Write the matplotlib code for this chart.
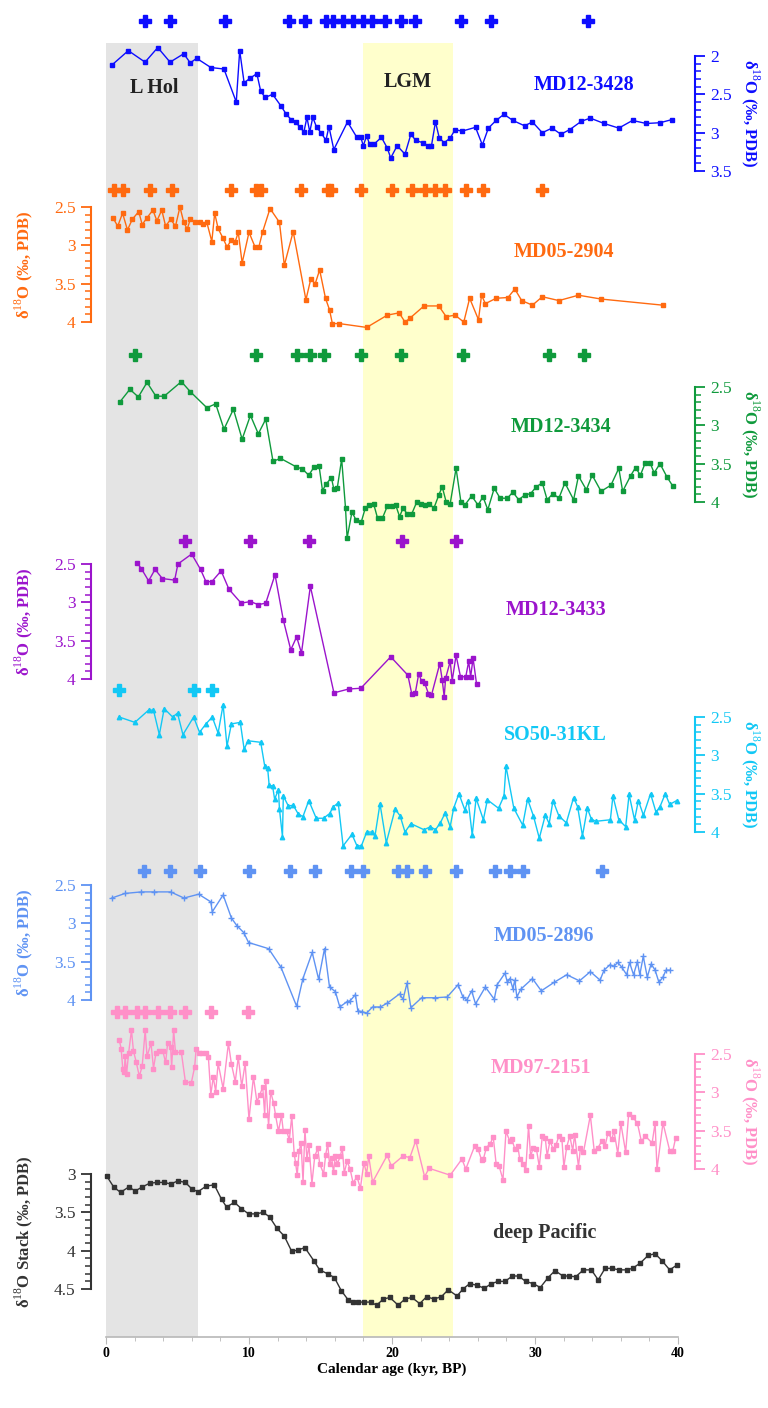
import matplotlib
matplotlib.use('Agg')
import matplotlib.pyplot as plt
from matplotlib.ticker import MultipleLocator, FuncFormatter

plt.rcParams['font.family'] = ['Liberation Serif', 'DejaVu Serif']
plt.rcParams['mathtext.fontset'] = 'custom'
plt.rcParams['mathtext.rm'] = 'Liberation Serif'
plt.rcParams['mathtext.bf'] = 'Liberation Serif:bold'

# ---------------- DATA ----------------
md12_3428_age = [0.4, 1.56, 2.73, 3.62, 4.48, 5.44, 5.89, 6.34, 7.33, 8.25, 9.11, 9.35, 9.66, 10.07, 10.55,
                 10.82, 11.13, 11.65, 12.23, 12.61, 12.95, 13.26, 13.57, 13.84, 14.05, 14.25, 14.46, 14.73,
                 15.04, 15.38, 15.59, 15.93, 16.89, 17.54, 17.82, 17.99, 18.23, 18.43, 18.74, 19.26, 19.67,
                 19.91, 20.36, 20.91, 21.32, 21.66, 22.14, 22.55, 22.76, 23.04, 23.31, 23.65, 24.07, 24.41,
                 24.89, 25.84, 26.32, 26.74, 27.28, 27.83, 28.45, 29.27, 29.82, 30.51, 31.19, 31.81, 32.43,
                 33.25, 33.87, 34.83, 35.86, 36.82, 37.78, 38.74, 39.56]
md12_3428_d18o = [2.12, 1.93, 2.08, 1.89, 2.08, 1.97, 2.09, 2.03, 2.15, 2.17, 2.60, 1.93, 2.35, 2.29, 2.23,
                  2.46, 2.54, 2.50, 2.65, 2.76, 2.83, 2.86, 2.93, 2.99, 2.80, 2.99, 2.80, 2.93,
                  3.00, 3.10, 2.92, 3.22, 2.86, 3.06, 3.06, 3.17, 3.04, 3.15, 3.15, 3.06, 3.20,
                  3.33, 3.17, 3.28, 3.02, 3.10, 3.13, 3.17, 3.17, 2.86, 3.07, 3.13, 3.07, 2.96,
                  2.98, 2.93, 3.16, 2.94, 2.84, 2.76, 2.84, 2.91, 2.86, 3.00, 2.94, 3.02, 2.96,
                  2.85, 2.81, 2.88, 2.94, 2.84, 2.88, 2.87, 2.83]
md12_3428_dates = [2.7, 4.5, 8.3, 12.8, 13.9, 15.4, 15.9, 16.6, 17.3, 18.0, 18.6, 19.5, 20.6, 21.6, 24.8, 26.9, 33.7]

md05_2904_age = [0.48, 0.82, 1.16, 1.50, 1.84, 2.29, 2.53, 2.87, 3.28, 3.56, 3.90, 4.17, 4.52, 4.86, 5.17,
                 5.44, 5.68, 5.89, 6.23, 6.57, 6.81, 7.05, 7.40, 7.60, 7.84, 8.19, 8.46, 8.77, 9.04, 9.25,
                 9.52, 10.00, 10.42, 10.69, 10.96, 11.47, 12.13, 12.47, 13.09, 13.98, 14.32, 14.63, 14.94,
                 15.35, 15.63, 15.83, 16.31, 18.23, 19.67, 20.50, 20.91, 21.25, 22.24, 23.27, 23.79, 24.41,
                 25.02, 25.43, 26.05, 26.26, 26.53, 27.28, 28.11, 28.59, 29.07, 29.82, 30.51, 31.67, 33.04,
                 34.62, 38.94]
md05_2904_d18o = [2.64, 2.75, 2.58, 2.80, 2.66, 2.56, 2.73, 2.64, 2.54, 2.68, 2.54, 2.75, 2.66, 2.75, 2.50,
                  2.70, 2.79, 2.66, 2.70, 2.69, 2.72, 2.70, 2.95, 2.58, 2.78, 2.91, 3.02, 2.93, 2.95, 2.83,
                  3.23, 2.83, 3.02, 3.02, 2.82, 2.52, 2.70, 3.26, 2.82, 3.71, 3.44, 3.50, 3.32,
                  3.69, 3.84, 4.02, 4.02, 4.07, 3.91, 3.88, 4.00, 3.95, 3.79, 3.79, 3.93, 3.91,
                  4.00, 3.69, 3.97, 3.65, 3.76, 3.69, 3.68, 3.57, 3.72, 3.78, 3.67, 3.72, 3.65,
                  3.70, 3.78]
md05_2904_dates = [0.55, 1.16, 3.05, 4.59, 8.77, 10.49, 10.83, 13.64, 15.49, 15.76, 17.82, 20.02, 21.39,
                   22.28, 23.03, 23.72, 25.16, 26.36, 30.47]

md12_3434_age = [0.99, 1.67, 2.26, 2.87, 3.49, 4.07, 5.27, 5.89, 7.05, 7.67, 8.25, 8.91, 9.52, 10.10, 10.65,
                 11.17, 11.68, 12.20, 13.29, 13.74, 14.18, 14.56, 14.90, 15.14, 15.38, 15.76, 15.93, 16.17,
                 16.48, 16.75, 16.86, 17.20, 17.50, 17.85, 18.13, 18.37, 18.71, 18.99, 19.33, 19.68, 20.02,
                 20.26, 20.53, 20.77, 21.05, 21.39, 21.73, 22.00, 22.28, 22.59, 22.93, 23.27, 23.51, 23.79,
                 24.07, 24.48, 24.82, 25.09, 25.57, 26.02, 26.36, 26.70, 27.15, 27.56, 28.07, 28.45, 28.86,
                 29.27, 29.69, 30.10, 30.51, 30.85, 31.26, 31.67, 32.09, 32.70, 33.04, 33.59, 34.00, 34.62,
                 35.31, 35.86, 36.13, 36.68, 37.03, 37.37, 37.71, 38.05, 38.33, 38.74, 39.22, 39.63]
md12_3434_d18o = [2.69, 2.53, 2.63, 2.44, 2.62, 2.62, 2.43, 2.56, 2.77, 2.72, 3.05, 2.79, 3.18, 2.87, 3.11,
                  2.92, 3.47, 3.43, 3.54, 3.57, 3.65, 3.54, 3.53, 3.85, 3.77, 3.68, 3.83, 3.82,
                  3.44, 4.08, 4.47, 4.13, 4.24, 4.26, 4.08, 4.04, 4.02, 4.21, 4.21, 4.05, 4.05,
                  4.04, 4.19, 4.08, 4.15, 4.15, 4.00, 4.02, 4.04, 4.02, 4.08, 3.91, 3.80, 4.00,
                  4.02, 3.56, 4.00, 4.04, 3.92, 4.04, 3.93, 4.10, 3.82, 3.95, 3.95, 3.87, 3.97,
                  3.91, 3.89, 3.80, 3.75, 3.97, 3.89, 3.95, 3.75, 3.97, 3.66, 3.84, 3.65, 3.86,
                  3.78, 3.56, 3.86, 3.66, 3.55, 3.65, 3.49, 3.49, 3.62, 3.50, 3.67, 3.79]
md12_3434_dates = [2.02, 10.48, 13.36, 14.26, 15.22, 17.82, 20.63, 24.99, 30.98, 33.45]

md12_3433_age = [2.19, 2.47, 2.98, 3.43, 3.94, 4.80, 5.03, 5.99, 6.61, 6.99, 7.40, 8.05, 8.60, 9.45, 10.10,
                 10.65, 11.17, 11.82, 12.40, 12.92, 13.33, 13.67, 14.29, 15.94, 16.97, 17.82, 19.91, 21.11,
                 21.39, 21.63, 21.87, 22.07, 22.28, 22.55, 22.76, 23.34, 23.51, 23.65, 23.75, 24.07, 24.21,
                 24.48, 24.79, 25.16, 25.36, 25.50, 25.67, 25.91]
md12_3433_d18o = [2.49, 2.56, 2.72, 2.57, 2.69, 2.71, 2.50, 2.37, 2.57, 2.73, 2.73, 2.59, 2.83, 3.01, 2.99,
                  3.03, 3.01, 2.64, 3.23, 3.62, 3.45, 3.66, 2.79, 4.18, 4.13, 4.12, 3.71, 3.95,
                  4.20, 4.18, 3.93, 4.03, 4.05, 4.19, 4.21, 3.80, 4.01, 4.23, 3.99, 3.77, 4.02,
                  3.69, 3.97, 3.97, 3.77, 3.97, 3.73, 4.06]
md12_3433_dates = [5.55, 10.07, 14.18, 20.7, 24.48]

so50_31kl_age = [0.92, 2.02, 2.98, 3.32, 3.73, 4.07, 4.66, 5.00, 5.38, 6.13, 6.54, 6.99, 7.43, 7.84, 8.19,
                 8.46, 8.77, 9.39, 9.66, 9.93, 10.82, 11.10, 11.30, 11.41, 11.65, 11.79, 12.06, 12.13,
                 12.34, 12.40, 12.75, 13.09, 13.43, 13.77, 14.18, 14.70, 15.21, 15.63, 15.90, 16.24, 16.58,
                 17.20, 17.55, 17.86, 18.23, 18.57, 18.81, 19.16, 19.60, 20.22, 20.57, 20.91, 21.32, 22.24,
                 22.69, 23.04, 23.38, 23.72, 24.07, 24.31, 24.68, 25.09, 25.33, 25.61, 25.88, 26.39, 26.67,
                 27.45, 27.83, 27.97, 28.52, 29.14, 29.48, 29.89, 30.30, 30.72, 30.99, 31.26, 31.67, 32.19,
                 32.70, 32.98, 33.32, 33.66, 33.94, 34.24, 35.27, 35.45, 35.86, 36.34, 36.58, 36.96, 37.23,
                 37.58, 38.08, 38.46, 38.74, 39.11, 39.42, 39.90]
so50_31kl_d18o = [2.50, 2.57, 2.41, 2.41, 2.73, 2.39, 2.50, 2.45, 2.73, 2.50, 2.70, 2.59, 2.50, 2.71, 2.34,
                  2.88, 2.59, 2.57, 2.92, 2.81, 2.83, 3.14, 3.16, 3.39, 3.40, 3.57, 3.45, 3.70,
                  4.06, 3.53, 3.66, 3.65, 3.76, 3.80, 3.59, 3.82, 3.82, 3.76, 3.67, 3.62, 4.18,
                  4.03, 4.18, 4.18, 4.00, 4.00, 4.05, 3.63, 4.14, 3.70, 3.79, 4.00, 3.89, 3.97,
                  3.93, 3.97, 3.88, 3.75, 3.93, 3.69, 3.50, 3.71, 3.59, 4.04, 3.56, 3.84, 3.58,
                  3.69, 3.53, 3.14, 3.69, 3.91, 3.57, 3.79, 4.08, 3.78, 3.89, 3.59, 3.79, 3.88,
                  3.55, 3.67, 4.05, 3.69, 3.83, 3.86, 3.84, 3.53, 3.84, 3.93, 3.51, 3.84, 3.59,
                  3.78, 3.50, 3.74, 3.67, 3.50, 3.64, 3.59]
so50_31kl_dates = [0.93, 6.13, 7.40]

md05_2896_age = [0.40, 1.33, 2.46, 3.39, 4.52, 5.45, 6.48, 7.33, 7.43, 8.19, 8.77, 9.15, 9.63, 9.97, 11.37,
                 12.23, 13.33, 13.77, 14.42, 14.87, 15.28, 15.63, 16.04, 16.35, 16.86, 17.07, 17.44, 17.61,
                 17.89, 18.23, 18.64, 19.19, 19.67, 20.53, 20.77, 21.05, 21.32, 22.07, 23.04, 23.86, 24.62,
                 24.96, 25.23, 25.57, 25.84, 26.53, 27.15, 27.35, 27.90, 28.07, 28.25, 28.45, 28.59, 28.73,
                 29.00, 29.82, 30.44, 31.33, 32.22, 33.11, 33.87, 34.55, 34.83, 35.24, 35.52, 35.79, 36.06,
                 36.41, 36.61, 36.89, 37.16, 37.33, 37.57, 37.85, 38.12, 38.40, 38.67, 38.95, 39.16, 39.43]
md05_2896_d18o = [2.67, 2.61, 2.59, 2.59, 2.59, 2.67, 2.62, 2.72, 2.85, 2.63, 2.93, 3.03, 3.12, 3.25, 3.33,
                  3.57, 4.08, 3.72, 3.38, 3.73, 3.33, 3.83, 3.89, 4.09, 4.02, 4.01, 3.93, 4.14,
                  4.15, 4.17, 4.09, 4.09, 4.04, 3.92, 3.99, 3.78, 4.10, 3.97, 3.97, 3.96, 3.80,
                  3.96, 4.00, 3.88, 4.05, 3.83, 3.99, 3.80, 3.65, 3.77, 3.72, 3.85, 3.74, 3.96,
                  3.86, 3.72, 3.88, 3.77, 3.67, 3.75, 3.63, 3.74, 3.61, 3.54, 3.56, 3.51, 3.57,
                  3.67, 3.51, 3.67, 3.50, 3.67, 3.43, 3.70, 3.53, 3.61, 3.77, 3.70, 3.61, 3.61]
md05_2896_dates = [2.63, 4.48, 6.54, 10.0, 12.88, 14.59, 17.13, 17.96, 20.43, 21.05, 22.28, 24.48, 27.21,
                   28.24, 29.14, 34.69]

md97_2151_age = [0.93, 1.06, 1.17, 1.27, 1.34, 1.44, 1.58, 1.78, 1.92, 2.12, 2.33, 2.53, 2.74, 2.87, 3.15,
                 3.32, 3.49, 3.73, 3.97, 4.17, 4.31, 4.52, 4.59, 4.73, 4.86, 5.27, 5.55, 5.96, 6.20, 6.30,
                 6.51, 6.71, 6.99, 7.16, 7.33, 7.50, 7.67, 7.84, 8.19, 8.56, 8.77, 9.04, 9.25, 9.49, 9.73,
                 10.00, 10.31, 10.55, 10.76, 10.96, 11.10, 11.17, 11.37, 11.51, 11.72, 11.86, 12.06, 12.27,
                 12.40, 12.64, 12.82, 12.99, 13.16, 13.26, 13.37, 13.50, 13.64, 13.78, 13.91, 14.05, 14.19,
                 14.40, 14.60, 14.81, 14.94, 15.22, 15.36, 15.50, 15.63, 15.77, 15.91, 16.04, 16.18, 16.39,
                 16.52, 16.66, 16.86, 17.07, 17.28, 17.55, 17.79, 18.03, 18.23, 18.37, 18.64, 19.67, 19.95,
                 20.77, 21.25, 21.66, 22.28, 22.59, 24.07, 24.89, 25.16, 25.78, 26.02, 26.26, 26.39, 26.60,
                 26.87, 27.08, 27.28, 27.49, 27.76, 27.97, 28.25, 28.38, 28.59, 28.80, 28.93, 29.14, 29.35,
                 29.55, 29.69, 29.89, 30.10, 30.30, 30.51, 30.72, 30.85, 31.05, 31.26, 31.46, 31.67, 31.88,
                 32.02, 32.22, 32.43, 32.64, 32.77, 33.04, 33.18, 33.39, 33.87, 34.14, 34.41, 34.69, 34.90,
                 35.10, 35.38, 35.52, 35.79, 36.00, 36.34, 36.55, 36.82, 37.16, 37.44, 37.71, 38.19, 38.40,
                 38.53, 38.95, 39.42, 39.63, 39.84]
md97_2151_d18o = [2.32, 2.43, 2.69, 2.73, 2.53, 2.76, 2.49, 2.19, 2.46, 2.61, 2.79, 2.66, 2.19, 2.53, 2.36,
                  2.69, 2.49, 2.46, 2.46, 2.61, 2.36, 2.41, 2.67, 2.19, 2.48, 2.48, 2.86, 2.88, 2.67, 2.44,
                  2.49, 2.49, 2.49, 2.54, 3.03, 2.80, 2.99, 2.62, 2.95, 2.36, 2.63, 2.86, 2.54, 2.92, 2.62,
                  3.35, 2.80, 3.12, 3.03, 2.93, 3.30, 2.85, 3.44, 2.99, 3.14, 3.30, 3.51, 3.30,
                  3.51, 3.51, 3.62, 3.31, 3.80, 3.92, 4.08, 3.77, 3.66, 4.17, 3.49, 3.87, 3.69,
                  4.19, 3.83, 3.73, 3.93, 4.06, 3.82, 3.67, 3.93, 3.85, 4.04, 3.83, 3.93, 3.83,
                  3.72, 4.05, 3.90, 4.00, 4.18, 4.10, 4.25, 3.92, 4.06, 3.83, 4.17, 3.82, 3.96,
                  3.83, 3.85, 3.63, 4.10, 3.99, 4.08, 3.87, 4.00, 3.70, 3.74, 3.88, 3.87, 3.72,
                  3.67, 3.58, 3.93, 3.96, 4.14, 3.51, 3.64, 3.61, 3.74, 3.70, 3.87, 3.93, 4.01,
                  3.44, 3.83, 3.72, 3.74, 3.97, 3.57, 3.60, 3.83, 3.63, 3.74, 3.69, 3.57, 3.61,
                  3.97, 3.71, 3.57, 3.76, 3.55, 3.97, 3.72, 3.78, 3.30, 3.76, 3.72, 3.63, 3.70,
                  3.53, 3.61, 3.50, 3.80, 3.40, 3.78, 3.28, 3.32, 3.40, 3.64, 3.57, 3.66, 3.40,
                  4.00, 3.40, 3.76, 3.77, 3.59]
md97_2151_dates = [0.75, 1.33, 2.19, 2.70, 3.62, 4.48, 5.51, 7.33, 9.90]

pacific_age = [0.06, 0.54, 1.02, 1.58, 2.05, 2.53, 3.05, 3.56, 4.07, 4.52, 5.03, 5.55, 6.03, 6.44, 6.99,
               7.57, 8.08, 8.43, 8.98, 9.46, 9.97, 10.48, 11.00, 11.44, 11.96, 12.47, 12.99, 13.43, 13.91,
               14.53, 14.94, 15.49, 15.97, 16.45, 16.93, 17.27, 17.62, 18.03, 18.51, 18.92, 19.40, 19.85,
               20.43, 20.91, 21.39, 21.94, 22.42, 22.93, 23.45, 23.93, 24.55, 24.96, 25.43, 25.92, 26.46,
               26.94, 27.42, 27.90, 28.42, 28.86, 29.34, 29.89, 30.37, 30.92, 31.40, 31.95, 32.36, 32.84,
               33.39, 33.94, 34.42, 34.90, 35.38, 35.86, 36.41, 36.82, 37.37, 37.92, 38.40, 38.88, 39.42,
               39.90]
pacific_stack = [3.03, 3.17, 3.24, 3.17, 3.22, 3.17, 3.12, 3.11, 3.11, 3.13, 3.09, 3.11, 3.20, 3.23, 3.16,
                 3.14, 3.33, 3.43, 3.37, 3.45, 3.52, 3.52, 3.50, 3.56, 3.71, 3.81, 4.01, 3.99, 3.96,
                 4.13, 4.25, 4.30, 4.35, 4.52, 4.64, 4.67, 4.67, 4.67, 4.67, 4.71, 4.63, 4.61,
                 4.71, 4.63, 4.61, 4.69, 4.60, 4.63, 4.60, 4.51, 4.59, 4.50, 4.43, 4.45, 4.49,
                 4.43, 4.40, 4.40, 4.33, 4.33, 4.40, 4.43, 4.48, 4.35, 4.26, 4.33, 4.33, 4.34,
                 4.25, 4.25, 4.38, 4.23, 4.23, 4.25, 4.25, 4.23, 4.16, 4.06, 4.04, 4.13, 4.25,
                 4.19]

late_holocene = (0, 6.4)
lgm = (18, 24.3)
x_ticks = [0, 10, 20, 30, 40]

# ---------------- LAYOUT / STYLE ----------------
W, H = 768, 1408
X0, X1 = 106, 678
PX_PER_UNIT = 76.7
YLAB = 'δ$^{18}$O (‰, PDB)'

fig = plt.figure(figsize=(W / 100, H / 100), dpi=100)


def rect(top, bottom):
    return [X0 / W, 1 - bottom / H, (X1 - X0) / W, (bottom - top) / H]


BG_TOP, BG_BOT = 43, 1337
bg = fig.add_axes(rect(BG_TOP, BG_BOT))
bg.set_xlim(0, 40)
bg.set_ylim(0, 1)
bg.axvspan(*late_holocene, color='#e4e4e4', lw=0)
bg.axvspan(*lgm, color='#ffffcc', lw=0)
for s in ['left', 'right', 'top']:
    bg.spines[s].set_visible(False)
bg.spines['bottom'].set_color('#b8b8b8')
bg.spines['bottom'].set_linewidth(1.2)
bg.set_yticks([])
bg.set_xticks(x_ticks)
bg.xaxis.set_minor_locator(MultipleLocator(2))
bg.tick_params(axis='x', which='major', length=5, color='#b8b8b8', labelsize=10, pad=2)
bg.tick_params(axis='x', which='minor', length=3, color='#b8b8b8')
for t in bg.get_xticklabels():
    t.set_fontweight('bold')
bg.set_xlabel('Calendar age (kyr, BP)', fontsize=11, fontweight='bold', labelpad=2)
bg.text(3.4, 1 - (88 - BG_TOP) / (BG_BOT - BG_TOP), 'L Hol', ha='center', va='center', fontsize=14.5,
        fontweight='bold', color='#222222')
bg.text(21.1, 1 - (82 - BG_TOP) / (BG_BOT - BG_TOP), 'LGM', ha='center', va='center', fontsize=14.5,
        fontweight='bold', color='#222222')

series = [
    dict(name='MD12-3428', x=md12_3428_age, y=md12_3428_d18o, dates=md12_3428_dates, color='#0d0dff',
         marker='s', side='right', top=56, vmin=2.0, date_level=1.54, lab=(584, 85), ylab=YLAB),
    dict(name='MD05-2904', x=md05_2904_age, y=md05_2904_d18o, dates=md05_2904_dates, color='#ff6a10',
         marker='s', side='left', top=207, vmin=2.5, date_level=2.28, lab=(564, 252), ylab=YLAB),
    dict(name='MD12-3434', x=md12_3434_age, y=md12_3434_d18o, dates=md12_3434_dates, color='#0f9a3c',
         marker='s', side='right', top=387, vmin=2.5, date_level=2.08, lab=(561, 427), ylab=YLAB),
    dict(name='MD12-3433', x=md12_3433_age, y=md12_3433_d18o, dates=md12_3433_dates, color='#9b14cc',
         marker='s', side='left', top=564, vmin=2.5, date_level=2.2, lab=(556, 610), ylab=YLAB),
    dict(name='SO50-31KL', x=so50_31kl_age, y=so50_31kl_d18o, dates=so50_31kl_dates, color='#12c8f5',
         marker='^', side='right', top=717, vmin=2.5, date_level=2.15, lab=(555, 735), ylab=YLAB),
    dict(name='MD05-2896', x=md05_2896_age, y=md05_2896_d18o, dates=md05_2896_dates, color='#5f93f3',
         marker='+', side='left', top=885, vmin=2.5, date_level=2.32, lab=(544, 936), ylab=YLAB),
    dict(name='MD97-2151', x=md97_2151_age, y=md97_2151_d18o, dates=md97_2151_dates, color='#ff90c8',
         marker='s', side='right', top=1054, vmin=2.5, date_level=1.95, lab=(541, 1068), ylab=YLAB),
    dict(name='deep Pacific', x=pacific_age, y=pacific_stack, dates=None, color='#333333',
         marker='s', side='left', top=1174, vmin=3.0, date_level=None, lab=(545, 1233),
         ylab='δ$^{18}$O Stack (‰, PDB)'),
]

fmt = FuncFormatter(lambda v, p: '%g' % round(v, 2))

for s in series:
    top = s['top']
    bottom = top + 1.5 * PX_PER_UNIT
    ax = fig.add_axes(rect(top, bottom))
    ax.patch.set_alpha(0)
    ax.set_xlim(0, 40)
    ax.set_ylim(s['vmin'] + 1.5, s['vmin'])
    c = s['color']
    ax.plot(s['x'], s['y'], color=c, lw=1.0, marker=s['marker'], ms=3.2 if s['marker'] != '+' else 4,
            mew=1.0, clip_on=False, zorder=3)
    if s['dates']:
        ax.plot(s['dates'], [s['date_level']] * len(s['dates']), linestyle='none', marker='P', ms=9,
                color=c, mec=c, clip_on=False, zorder=3)
    for sp in ['top', 'bottom', 'left', 'right']:
        ax.spines[sp].set_visible(False)
    ax.set_xticks([])
    side = s['side']
    if side == 'right':
        ax.yaxis.tick_right()
        ax.spines['right'].set_visible(True)
        ax.spines['right'].set_position(('axes', (695 - X0) / (X1 - X0)))
        sp = ax.spines['right']
    else:
        ax.spines['left'].set_visible(True)
        ax.spines['left'].set_position(('axes', (91 - X0) / (X1 - X0)))
        sp = ax.spines['left']
    sp.set_color(c)
    sp.set_linewidth(1.5)
    ax.yaxis.set_major_locator(MultipleLocator(0.5))
    ax.yaxis.set_minor_locator(MultipleLocator(0.1))
    ax.yaxis.set_major_formatter(fmt)
    ax.tick_params(axis='y', which='major', length=7, width=1.3, color=c, labelcolor=c,
                   labelsize=12.5, pad=4, direction='out')
    ax.tick_params(axis='y', which='minor', length=4, width=1.1, color=c, direction='out')
    mid = (top + bottom) / 2
    if side == 'right':
        fig.text(750 / W, 1 - mid / H, s['ylab'], rotation=270, ha='center', va='center',
                 fontsize=12, fontweight='bold', color=c)
    else:
        fig.text(24 / W, 1 - mid / H, s['ylab'], rotation=90, ha='center', va='center',
                 fontsize=12, fontweight='bold', color=c)
    fig.text(s['lab'][0] / W, 1 - s['lab'][1] / H, s['name'], ha='center', va='center',
             fontsize=14.5, fontweight='bold', color=c)

fig.savefig('out.png', dpi=100)
